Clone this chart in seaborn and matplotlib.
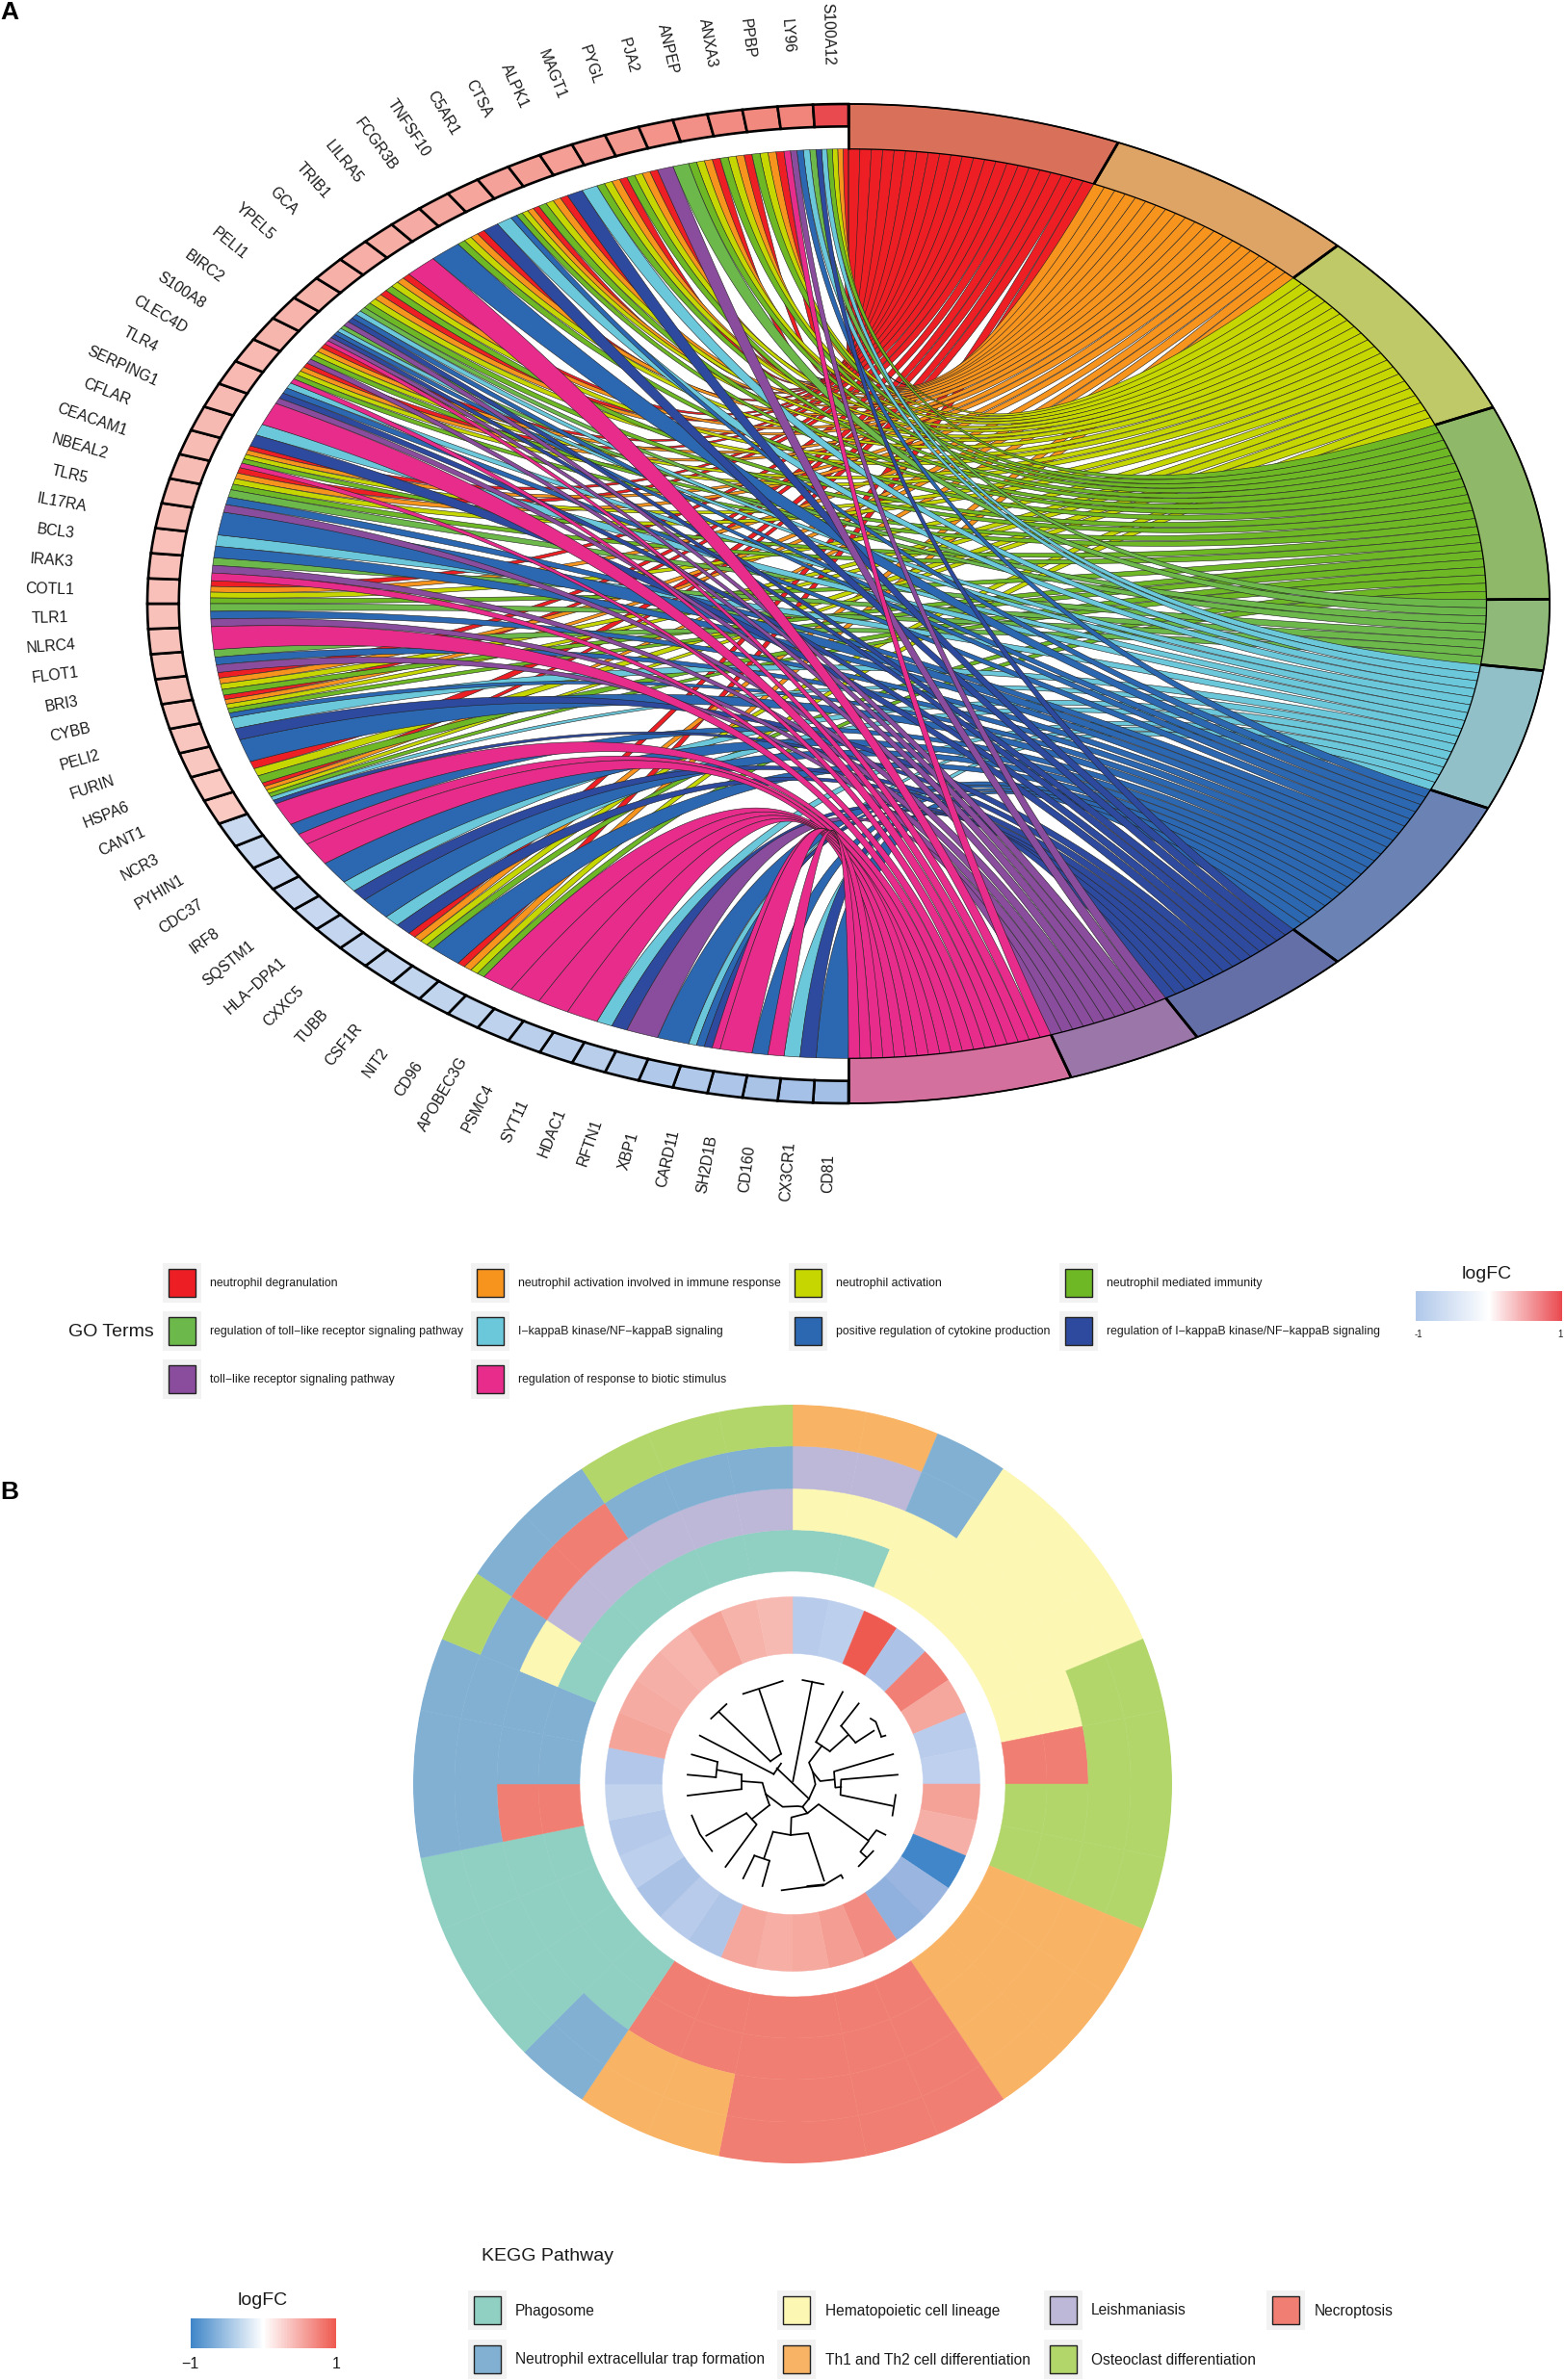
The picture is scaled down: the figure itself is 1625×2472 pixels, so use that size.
#!/usr/bin/env python
import numpy as np
import seaborn as sns
import matplotlib
matplotlib.use("Agg")
import matplotlib.pyplot as plt
from matplotlib.colors import LinearSegmentedColormap
from matplotlib.patches import Rectangle

sns.set_theme(style="white")
plt.rcParams['font.family'] = ['Liberation Sans', 'DejaVu Sans']

W, H = 1625, 2472

# ---- panel A data: genes listed clockwise from the bottom of the ellipse
genes = ['CD81', 'CX3CR1', 'CD160', 'SH2D1B', 'CARD11', 'XBP1', 'RFTN1', 'HDAC1',
         'SYT11', 'PSMC4', 'APOBEC3G', 'CD96', 'NIT2', 'CSF1R', 'TUBB', 'CXXC5',
         'HLA\u2212DPA1', 'SQSTM1', 'IRF8', 'CDC37', 'PYHIN1', 'NCR3', 'CANT1', 'HSPA6',
         'FURIN', 'PELI2', 'CYBB', 'BRI3', 'FLOT1', 'NLRC4', 'TLR1', 'COTL1',
         'IRAK3', 'BCL3', 'IL17RA', 'TLR5', 'NBEAL2', 'CEACAM1', 'CFLAR', 'SERPING1',
         'TLR4', 'CLEC4D', 'S100A8', 'BIRC2', 'PELI1', 'YPEL5', 'GCA', 'TRIB1',
         'LILRA5', 'FCGR3B', 'TNFSF10', 'C5AR1', 'CTSA', 'ALPK1', 'MAGT1', 'PYGL',
         'PJA2', 'ANPEP', 'ANXA3', 'PPBP', 'LY96', 'S100A12']
gene_logfc = [-.93, -.9, -.88, -.85, -.8, -.8, -.75, -.72, -.7, -.7, -.66, -.64,
              -.64, -.62, -.6, -.6, -.6, -.58, -.58, -.57, -.56, -.55,
              .3, .3, .31, .32, .32, .33, .33, .34, .34, .35, .35, .35, .36, .36,
              .37, .37, .38, .38, .39, .39, .4, .41, .42, .43, .44, .45, .46, .47,
              .49, .5, .52, .53, .54, .56, .58, .6, .62, .64, .66, 1.0]
# one letter per GO term, in clockwise order inside each gene
gene_terms = ['B', 'DC', 'MB', 'M', 'MDBC', 'B', 'P', 'DC', 'M', 'M', 'M', 'M',
              'GYOR', 'B', 'GYOR', 'DC', 'B', 'DC', 'B', 'M', 'MB', 'M', 'DCGYOR',
              'GYR', 'B', 'DC', 'BGYOR', 'GYOR', 'PBL', 'M', 'PBL', 'GYOR', 'MPL',
              'BC', 'B', 'PBL', 'GYOR', 'MGYOR', 'DC', 'M', 'PDBC', 'MGYOR', 'PGYOR',
              'MPDBCL', 'PDBCL', 'GYOR', 'GYOR', 'M', 'B', 'GYOR', 'DC', 'BGYOR',
              'GYOR', 'DC', 'GYOR', 'GYOR', 'PL', 'GYOR', 'GYOR', 'GYOR', 'MPBCL',
              'DCGYOR']
term_keys = ['R', 'O', 'Y', 'G', 'L', 'C', 'B', 'D', 'P', 'M']
term_names = ['neutrophil degranulation', 'neutrophil activation involved in immune response',
              'neutrophil activation', 'neutrophil mediated immunity',
              'regulation of toll\u2212like receptor signaling pathway',
              'I\u2212kappaB kinase/NF\u2212kappaB signaling',
              'positive regulation of cytokine production',
              'regulation of I\u2212kappaB kinase/NF\u2212kappaB signaling',
              'toll\u2212like receptor signaling pathway',
              'regulation of response to biotic stimulus']
term_colors = ['#ed1f24', '#f7941d', '#c6d600', '#6eb825', '#6cb84a',
               '#6bc7da', '#2c67b1', '#2e4a9e', '#8a4c9d', '#e82c8c']
ring_colors = ['#d9705a', '#dda465', '#bfc968', '#8fb968', '#8fb978',
               '#92c0c8', '#6a83b4', '#646fa8', '#9b76a8', '#d3709d']

# ---- panel B data: 32 sectors clockwise from the top
heat_values = [-.37, -.35, 1.0, -.43, .77, .53, -.36, -.34, .56, .48, -1.0, -.53,
               -.58, .70, .59, .52, .49, .53, -.42, -.37, -.44, -.35, -.39, -.32,
               -.40, .55, .50, .48, .45, .56, .46, .42]
track_outer = 'OOEHHHCCCCOOONNNNOOETTTEEECEECCC'
track_3 = 'LLEHHHCCCCOOONNNNOOETTTEEEENNEEE'
track_2 = 'HHHHHHHNCCOOONNNNNNTTTTNEEHLLLLL'
track_inner = 'TTHHHHHNCCOOONNNNNNTTTTNEETTTTTT'
kegg_keys = ['T', 'H', 'L', 'N', 'E', 'O', 'C']
kegg_names = ['Phagosome', 'Hematopoietic cell lineage', 'Leishmaniasis', 'Necroptosis',
              'Neutrophil extracellular trap formation', 'Th1 and Th2 cell differentiation',
              'Osteoclast differentiation']
kegg_colors = ['#8fd0c2', '#fdf7b4', '#bdb8d8', '#f17e72', '#81b0d3', '#f8b364', '#b3d66b']

# dendrogram (3x pixels from x=620, y=1620)
tree_paths = [
    [(640, 375), (705, 388)], [(670, 380), (610, 690)],
    [(765, 412), (682, 568)], [(682, 568), (725, 597)], [(725, 597), (780, 548)],
    [(815, 448), (760, 518)], [(760, 518), (805, 570)], [(805, 570), (862, 533)],
    [(852, 495), (868, 505), (885, 550)], [(885, 552), (898, 548)],
    [(700, 580), (660, 632), (672, 662), (680, 700), (660, 745)],
    [(672, 662), (695, 690), (738, 685)],
    [(922, 606), (738, 660), (742, 710), (760, 708)],
    [(936, 670), (760, 685), (758, 733), (920, 767)],
    [(930, 733), (920, 797)],
    [(660, 745), (640, 770), (655, 790), (690, 762), (845, 875)],
    [(845, 875), (870, 843), (898, 857)],
    [(845, 878), (820, 910), (840, 928)], [(860, 908), (815, 955)],
    [(655, 790), (605, 803), (603, 858)],
    [(548, 848), (603, 858), (658, 852), (707, 1000)],
    [(575, 1030), (650, 1020), (705, 1015), (760, 982), (765, 992)],
    [(655, 1017), (705, 1012)],
    [(548, 848), (520, 930)], [(490, 922), (537, 938)],
    [(490, 922), (455, 993)], [(537, 938), (515, 1017)],
    [(640, 770), (625, 768), (578, 770), (525, 730)],
    [(537, 765), (482, 808)], [(465, 790), (497, 825), (400, 957)],
    [(465, 790), (340, 860)], [(295, 797), (320, 855), (358, 908)],
    [(525, 730), (537, 765)],
    [(525, 730), (515, 695), (450, 690)], [(450, 670), (450, 715)],
    [(450, 670), (375, 655)], [(450, 715), (282, 735)],
    [(375, 630), (370, 678)], [(375, 630), (295, 607)], [(370, 678), (282, 670)],
    [(573, 605), (505, 405)], [(455, 418), (578, 378)],
    [(573, 605), (540, 628)], [(540, 628), (380, 475)], [(355, 495), (403, 450)],
    [(573, 635), (550, 668)], [(560, 650), (660, 745)],
    [(320, 548), (550, 668)],
]

fig = plt.figure(figsize=(W / 100, H / 100), dpi=100)


def px_axes(x0, y0, x1, y1, **kw):
    """Axes placed by the pixel box of the figure (y counted from the top)."""
    return fig.add_axes([x0 / W, 1 - y1 / H, (x1 - x0) / W, (y1 - y0) / H], **kw)


def arc(t0, t1, r, n=30):
    t = np.radians(np.linspace(t0, t1, n))
    return r * np.sin(t), r * np.cos(t)


def bezier(p0, p1, n=80):
    # same curve as GOChord, the control point sits on the origin
    t = np.linspace(0, 1, n)
    return ((1 - t) ** 2 * p0[0] + t ** 2 * p1[0],
            (1 - t) ** 2 * p0[1] + t ** 2 * p1[1])


def sector(t0, t1, r0, r1):
    x0, y0 = arc(t0, t1, r1)
    x1, y1 = arc(t1, t0, r0)
    return np.r_[x0, x1], np.r_[y0, y1]


def pt(theta, r):
    a = np.radians(theta)
    return r * np.sin(a), r * np.cos(a)


# ---- panel A
CX, CY, RX, RY = 881, 627, 728, 519
R_CHORD, R_GENE = 0.91, 0.955
ax_a = px_axes(0, 0, W, 1200)
ax_a.set_xlim(-CX / RX, (W - CX) / RX)
ax_a.set_ylim(-(1200 - CY) / RY, CY / RY)
ax_a.axis('off')

logfc_a = LinearSegmentedColormap.from_list(
    'logfc_a', [(0, '#9dbbe4'), (.5, '#ffffff'), (.665, '#f8c4bc'), (.83, '#f1857b'), (1, '#e94a50')])

step_gene = 180 / len(genes)
seg_lookup = {}
for g, letters in enumerate(gene_terms):
    start = 180 + g * step_gene
    width = step_gene / len(letters)
    for k, letter in enumerate(letters):
        seg_lookup[(letter, g)] = (start + k * width, start + (k + 1) * width)

total = sum(len(s) for s in gene_terms)
step_term = 180 / total
pos = 0
term_spans = []
for key, color, ring in zip(term_keys, term_colors, ring_colors):
    members = [g for g, s in enumerate(gene_terms) if key in s][::-1]
    span0 = pos
    for g in members:
        ta, tb = pos, pos + step_term
        gc, gd = seg_lookup[(key, g)]
        x1, y1 = arc(ta, tb, R_CHORD, 6)
        x2, y2 = bezier(pt(tb, R_CHORD), pt(gc, R_CHORD))
        x3, y3 = arc(gc, gd, R_CHORD, 6)
        x4, y4 = bezier(pt(gd, R_CHORD), pt(ta, R_CHORD))
        ax_a.fill(np.r_[x1, x2, x3, x4], np.r_[y1, y2, y3, y4], facecolor=color,
                  edgecolor='#222222', linewidth=0.4)
        pos = tb
    term_spans.append((span0, pos, ring))

for t0, t1, ring in term_spans:
    x, y = sector(t0, t1, R_CHORD, 1.0)
    ax_a.fill(x, y, facecolor=ring, edgecolor='black', linewidth=0.9)
    for t in (t0, t1):
        px_, py_ = zip(pt(t, R_CHORD), pt(t, 1.0))
        ax_a.plot(px_, py_, color='black', lw=1.9, solid_capstyle='butt')
ax_a.plot(*arc(0, 180, 1.0, 200), color='black', lw=1.3)

for g, (name, val) in enumerate(zip(genes, gene_logfc)):
    t0 = 180 + g * step_gene
    t1 = t0 + step_gene
    x, y = sector(t0, t1, R_GENE, 1.0)
    ax_a.fill(x, y, facecolor=logfc_a((val + 1) / 2), edgecolor='black', linewidth=1.9)
    mid = (t0 + t1) / 2
    lx, ly = pt(mid, 1.14)
    ax_a.text(lx, ly, name, rotation=270 - mid if mid < 270 else 90 - (mid - 360) - 180,
              rotation_mode='anchor', ha='center', va='center',
              fontsize=11.3, color='#1a1a1a')

# ---- panel B
R_OUT = 394
ax_b = px_axes(823 - R_OUT, 1853 - R_OUT, 823 + R_OUT, 1853 + R_OUT, projection='polar')
ax_b.set_theta_zero_location('N')
ax_b.set_theta_direction(-1)
ax_b.set_ylim(0, R_OUT)
ax_b.axis('off')

logfc_b = LinearSegmentedColormap.from_list(
    'logfc_b', [(0, '#4086c8'), (.235, '#9ab6e0'), (.32, '#bacdec'), (.5, '#ffffff'),
                (.76, '#f5a99f'), (1, '#ee5a50')])
kegg_lookup = dict(zip(kegg_keys, kegg_colors))
step = 360 / len(heat_values)
centers = np.radians((np.arange(len(heat_values)) + 0.5) * step)
tracks = [(track_inner, 221, 264), (track_2, 264, 307), (track_3, 307, 351), (track_outer, 351, 394)]
for letters, r0, r1 in tracks:
    cols = [kegg_lookup[c] for c in letters]
    ax_b.bar(centers, r1 - r0, width=np.radians(step), bottom=r0, color=cols,
             edgecolor=cols, linewidth=0.3)
heat_cols = [logfc_b((v + 1) / 2) for v in heat_values]
ax_b.bar(centers, 194.5 - 135.5, width=np.radians(step), bottom=135.5, color=heat_cols,
         edgecolor=heat_cols, linewidth=0.3)

# ---- overlay in figure pixels: tree, legends and panel letters
ax_px = fig.add_axes([0, 0, 1, 1])
ax_px.set_xlim(0, W)
ax_px.set_ylim(H, 0)
ax_px.axis('off')

for path in tree_paths:
    xs = [620 + p[0] / 3 for p in path]
    ys = [1620 + p[1] / 3 for p in path]
    ax_px.plot(xs, ys, color='black', lw=1.25, solid_capstyle='projecting')


def legend_key(x, y, color, text, tx, size):
    ax_px.add_patch(Rectangle((x, y - 21), 40, 41, facecolor='#f2f2f2', edgecolor='none'))
    ax_px.add_patch(Rectangle((x + 6, y - 15), 28, 29, facecolor=color, edgecolor='#222222', lw=1.0))
    ax_px.text(tx, y, text, ha='left', va='center', fontsize=size, color='#1a1a1a')


col_x_a = [169, 489, 819, 1100]
text_x_a = [218, 538, 868, 1149]
row_y_a = [1333, 1383, 1433]
for i, (name, color) in enumerate(zip(term_names, term_colors)):
    r, c = i // 4, i % 4
    legend_key(col_x_a[c], row_y_a[r], color, name, text_x_a[c], 8.8)
ax_px.text(115, 1384, 'GO Terms', ha='center', va='center', fontsize=14, color='#1a1a1a')
ax_px.text(1544, 1323, 'logFC', ha='center', va='center', fontsize=14, color='#1a1a1a')
ax_px.text(1473, 1386, '-1', ha='center', va='center', fontsize=7, color='#1a1a1a')
ax_px.text(1620, 1386, '1', ha='center', va='center', fontsize=7, color='#1a1a1a')

col_x_b = [486, 807, 1084, 1315]
text_x_b = [535, 857, 1133, 1365]
row_y_b = [2400, 2451]
for i, (name, color) in enumerate(zip(kegg_names, kegg_colors)):
    r, c = i // 4, i % 4
    legend_key(col_x_b[c], row_y_b[r], color, name, text_x_b[c], 11.2)
ax_px.text(569, 2343, 'KEGG Pathway', ha='center', va='center', fontsize=14, color='#1a1a1a')
ax_px.text(273, 2390, 'logFC', ha='center', va='center', fontsize=14, color='#1a1a1a')
ax_px.text(197, 2456, '\u22121', ha='center', va='center', fontsize=11.5, color='#1a1a1a')
ax_px.text(349, 2456, '1', ha='center', va='center', fontsize=11.5, color='#1a1a1a')

ax_px.text(0, 13, 'A', ha='left', va='center', fontsize=19, fontweight='bold', color='black')
ax_px.text(0, 1550, 'B', ha='left', va='center', fontsize=19, fontweight='bold', color='black')

# ---- gradient bars
gradient = np.linspace(-1, 1, 200).reshape(1, -1)
bar_a = px_axes(1470, 1341, 1622, 1372)
sns.heatmap(gradient, cmap=sns.blend_palette(['#b0c8ea', '#ffffff', '#e94a50'], as_cmap=True),
            vmin=-1, vmax=1, cbar=False, xticklabels=False, yticklabels=False, ax=bar_a)
bar_b = px_axes(198, 2408, 349, 2439)
sns.heatmap(gradient, cmap=sns.blend_palette(['#4086c8', '#ffffff', '#ee5a50'], as_cmap=True),
            vmin=-1, vmax=1, cbar=False, xticklabels=False, yticklabels=False, ax=bar_b)

plt.savefig('out.png', dpi=100)
